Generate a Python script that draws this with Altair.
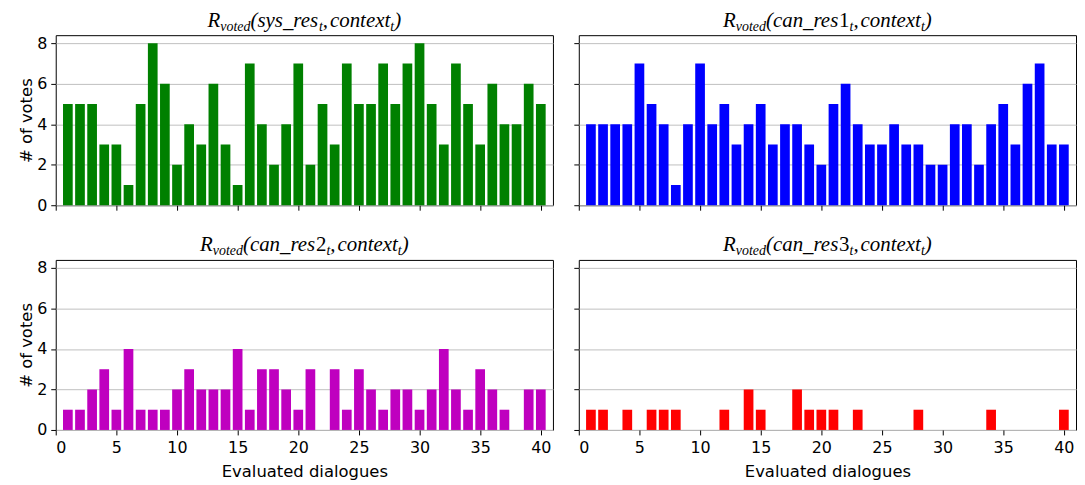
import altair as alt
import pandas as pd

dialogues = list(range(1, 41))
sys_res = [5, 5, 5, 3, 3, 1, 5, 8, 6, 2, 4, 3, 6, 3, 1, 7, 4, 2, 4, 7,
           2, 5, 3, 7, 5, 5, 7, 5, 7, 8, 5, 3, 7, 5, 3, 6, 4, 4, 6, 5]
can_res1 = [4, 4, 4, 4, 7, 5, 4, 1, 4, 7, 4, 5, 3, 4, 5, 3, 4, 4, 3, 2,
            5, 6, 4, 3, 3, 4, 3, 3, 2, 2, 4, 4, 2, 4, 5, 3, 6, 7, 3, 3]
can_res2 = [1, 1, 2, 3, 1, 4, 1, 1, 1, 2, 3, 2, 2, 2, 4, 1, 3, 3, 2, 1,
            3, 0, 3, 1, 3, 2, 1, 2, 2, 1, 2, 4, 2, 1, 3, 2, 1, 0, 2, 2]
can_res3 = [1, 1, 0, 1, 0, 1, 1, 1, 0, 0, 0, 1, 0, 2, 1, 0, 0, 2, 1, 1,
            1, 0, 1, 0, 0, 0, 0, 1, 0, 0, 0, 0, 0, 1, 0, 0, 0, 0, 0, 1]
series_names = ["sys_res", "can_res", "can_res", "can_res"]
series_digits = ["", "1", "2", "3"]
colors = ["#008000", "#0000ff", "#bf00bf", "#ff0000"]
x_ticks = [0, 5, 10, 15, 20, 25, 30, 35, 40]
y_ticks = [0, 2, 4, 6, 8]

W, H = 500, 171
MAIN, SUB = 21, 14
SERIF = "Liberation Serif"
EM = {"R": .611, "v": .444, "o": .5, "t": .278, "e": .444, "d": .5, "(": .333,
      "s": .389, "y": .444, "_": .5, "r": .389, "c": .444, "n": .5, "x": .444,
      ",": .25, " ": .25, ")": .333, "a": .5, "1": .5, "2": .5, "3": .5}


def tw(s, size):
    return sum(EM[c] for c in s) * size


def title_layers(name, digit):
    segs = [("R", MAIN, False, True, 0), ("voted", SUB, True, True, 0),
            ("(" + name, MAIN, False, True, 0)]
    if digit:
        segs.append((digit, MAIN, False, False, 0))
    segs += [("t", SUB, True, True, 0), (",", MAIN, False, True, 2),
             ("context", MAIN, False, True, 0), ("t", SUB, True, True, 0),
             (")", MAIN, False, True, 0)]
    total = sum(tw(s, sz) + g for s, sz, _, _, g in segs)
    x = W / 2 - total / 2
    layers = []
    for s, sz, sub, it, g in segs:
        layers.append(
            alt.Chart(alt.Data(values=[{}])).mark_text(
                text=s, font=SERIF, fontSize=sz,
                fontStyle="italic" if it else "normal",
                align="left", baseline="alphabetic", color="black"
            ).encode(x=alt.value(x), y=alt.value(-4.5 if sub else -8.5))
        )
        x += tw(s, sz) + g
    return layers


def panel(values, color, name, digit, show_x, show_y):
    df = pd.DataFrame({"dialogue": dialogues, "votes": values})
    bars = alt.Chart(df).transform_calculate(
        x0="datum.dialogue - 0.4", x1="datum.dialogue + 0.4"
    ).mark_bar(color=color).encode(
        x=alt.X("x0:Q",
                scale=alt.Scale(domain=[0, 41], nice=False, zero=False),
                axis=alt.Axis(values=x_ticks, labels=show_x, grid=False,
                              labelPadding=5, titlePadding=8,
                              title="Evaluated dialogues" if show_x else None)),
        x2="x1:Q",
        y=alt.Y("votes:Q",
                scale=alt.Scale(domain=[0, 8.4], nice=False),
                axis=alt.Axis(values=y_ticks, labels=show_y, grid=True,
                              labelPadding=4, titlePadding=2,
                              title="# of votes" if show_y else None)),
        y2=alt.datum(0),
    )
    return alt.layer(bars, *title_layers(name, digit)).properties(width=W, height=H)


p = [panel(v, c, n, d, i >= 2, i % 2 == 0)
     for i, (v, c, n, d) in enumerate(zip([sys_res, can_res1, can_res2, can_res3],
                                           colors, series_names, series_digits))]

chart = alt.concat(
    *p, columns=2, spacing={"row": 55, "column": 26}, bounds="flush"
).properties(
    padding={"left": 10, "top": 0, "right": 0, "bottom": 0}
).configure_view(
    stroke="black", strokeWidth=1
).configure_axis(
    labelFont="DejaVu Sans", labelFontSize=16, labelColor="black",
    titleFont="DejaVu Sans", titleFontSize=16.5, titleFontWeight="normal",
    titleColor="black", tickSize=5, tickColor="black", tickWidth=1,
    domain=False, gridColor="#c0c0c0", gridWidth=1, zindex=1
)

chart.save("out.html", embed_options={"renderer": "svg", "actions": False})
